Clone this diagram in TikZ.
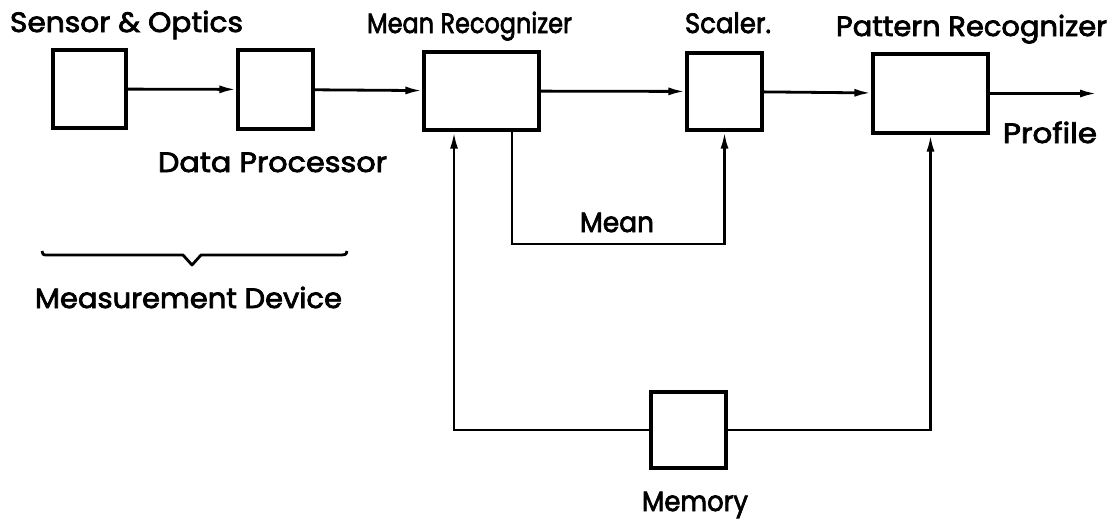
\documentclass[tikz,border=0pt]{standalone}
\usepackage{fontspec}
\setmainfont{Poppins}
\newfontfamily\lblfont{Poppins}[FakeBold=2.6]
\usetikzlibrary{arrows.meta}
\newsavebox\lblbox
\newcommand\fitlbl[2]{\sbox\lblbox{#2}\pgfmathsetmacro\lblfx{#1/\wd\lblbox}\scalebox{\lblfx}[1]{\usebox\lblbox}}
\begin{document}
\begin{tikzpicture}[x=1pt,y=-1pt,
  blk/.style={draw, line width=3.2pt, inner sep=0pt},
  conn/.style={line width=2.8pt, -{Latex[length=17pt,width=8pt]}},
  wire/.style={line width=2.8pt},
  lbl/.style={font=\fontsize{28}{30}\lblfont, anchor=base, inner sep=0pt}]
\useasboundingbox (0,0) rectangle (1116,523);
\fill[white] (0,0) rectangle (1116,523);
% boxes
\node[blk, minimum width=73pt, minimum height=78pt] (sensor) at (89.5,89) {};
\node[blk, minimum width=75pt, minimum height=79pt] (dp) at (275.5,89.5) {};
\node[blk, minimum width=115pt, minimum height=78pt] (mr) at (481.5,91) {};
\node[blk, minimum width=75pt, minimum height=77pt] (sc) at (724.5,91.5) {};
\node[blk, minimum width=115pt, minimum height=79pt] (pr) at (930.5,93.5) {};
\node[blk, minimum width=75pt, minimum height=76pt] (mem) at (688.5,430) {};
% labels
\node[lbl] (tsensor) at (126.5,32) {\fitlbl{233}{Sensor \& Optics}};
\node[lbl] (tmr) at (469.5,33) {\fitlbl{205}{Mean Recognizer}};
\node[lbl] (tsc) at (728,33) {\fitlbl{86}{Scaler.}};
\node[lbl] (tpr) at (971.5,36) {\fitlbl{271}{Pattern Recognizer}};
\node[lbl] (tdp) at (272.5,172) {\fitlbl{229}{Data Processor}};
\node[lbl] (tmean) at (617,232) {\fitlbl{74}{Mean}};
\node[lbl] (tprof) at (1050,143) {\fitlbl{94}{Profile}};
\node[lbl] (tmd) at (188.5,308) {\fitlbl{307}{Measurement Device}};
\node[lbl] (tmem) at (695,511) {\fitlbl{106}{Memory}};
% connectors
\coordinate (out) at (1097,93.5);
\draw[conn] (sensor) -- (dp);
\draw[conn] (dp) -- (mr);
\draw[conn] (mr) -- (sc);
\draw[conn] (sc) -- (pr);
\draw[conn] (pr) -- (out);
\path (sc.south |- 0,244) coordinate (meanbend);
\draw[conn] ([xshift=30.5pt]mr.south) |- (meanbend) -- (sc.south);
\draw[conn] (mem.west) -| ([xshift=-27.5pt]mr.south);
\draw[conn] (mem.east) -| (pr.south);
% brace
\draw[wire, line join=round] (42,251) .. controls (43,255) .. (48,255) -- (183,255) -- (192,265) -- (201,255) -- (337,255) .. controls (346,255) .. (347,251);
\end{tikzpicture}
\end{document}
